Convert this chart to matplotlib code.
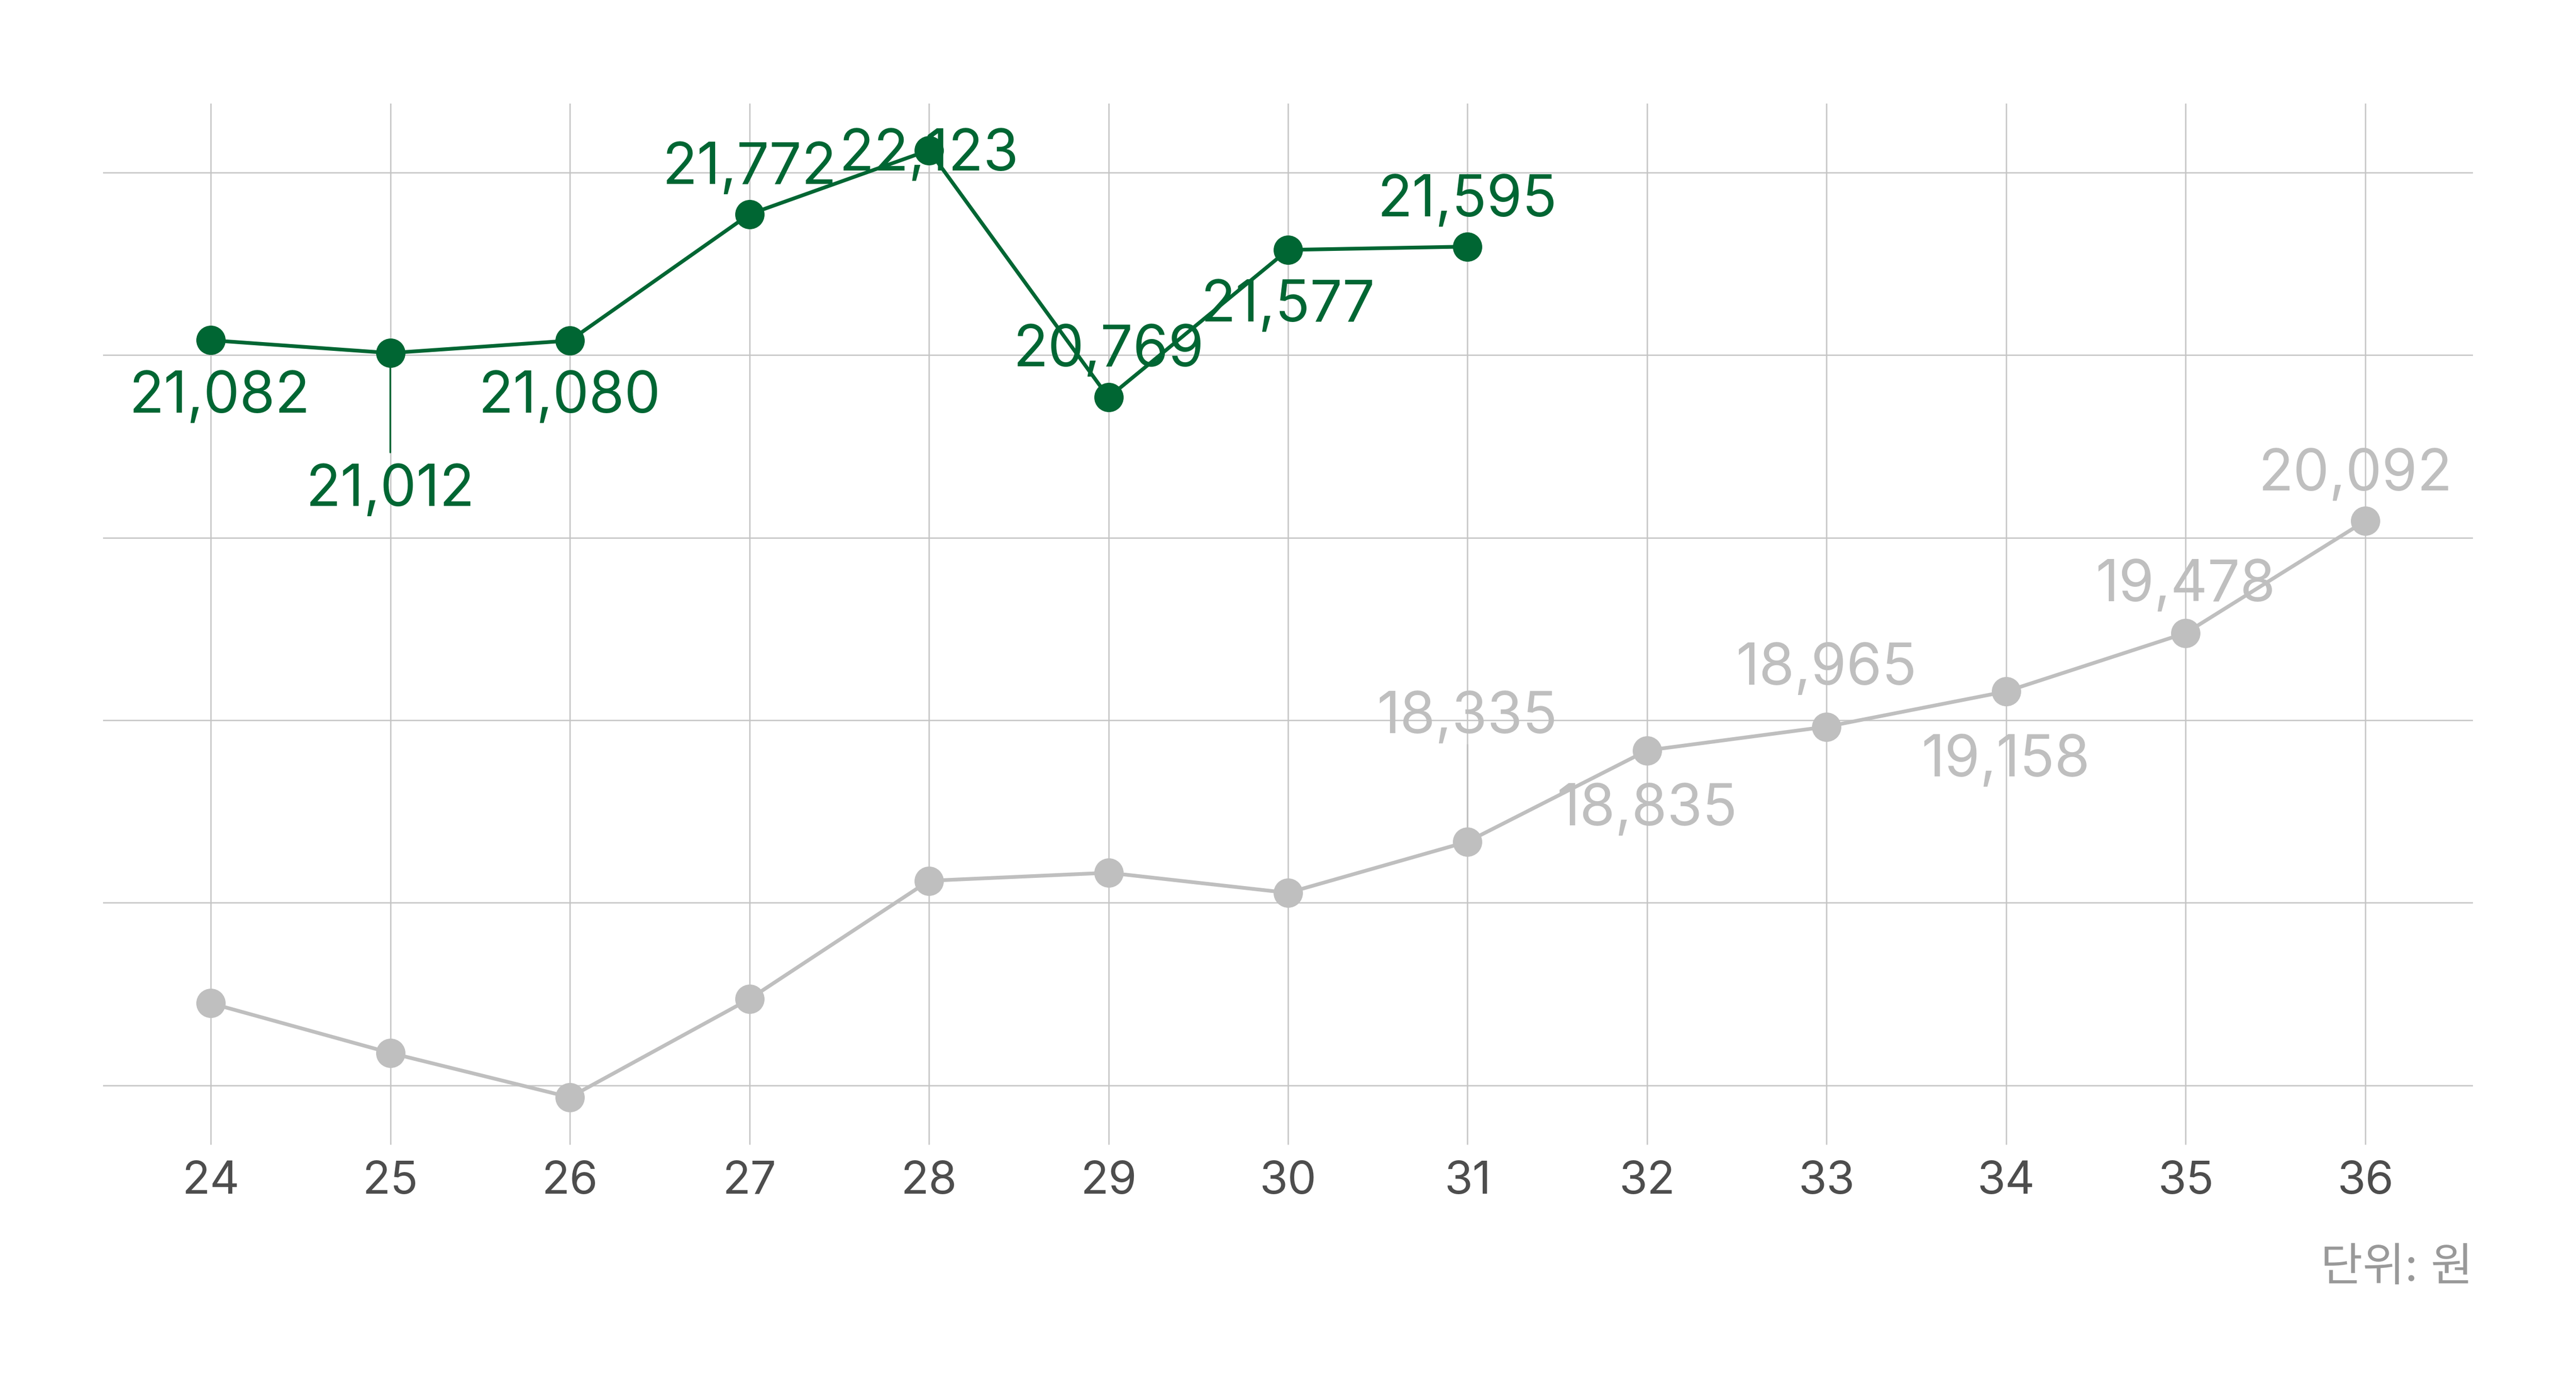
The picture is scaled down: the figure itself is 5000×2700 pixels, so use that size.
import matplotlib
matplotlib.use("Agg")
import matplotlib.pyplot as plt

# ---- data ----
ages = [24, 25, 26, 27, 28, 29, 30, 31, 32, 33, 34, 35, 36]
green_values = [21082, 21012, 21080, 21772, 22123, 20769, 21577, 21595]
gray_values = [17450, 17178, 16935, 17473, 18121, 18165, 18055, 18335,
               18835, 18965, 19158, 19478, 20092]
gray_labeled_from = 31
y_grid = [17000, 18000, 19000, 20000, 21000, 22000]
unit_text = "단위: 원"

# ---- style ----
GREEN = "#006633"
GRAY = "#bfbfbf"
GRID = "#c4c4c4"
FONT = ["Inter", "Noto Sans CJK KR", "DejaVu Sans"]
plt.rcParams["font.family"] = FONT

# label offsets in pixels (dx, dy of baseline), leader line length
green_offsets = [(17, -141, 0), (0, -297, -193), (0, -140, 0), (0, 59, 0),
                 (0, -39, 0), (0, 60, 0), (0, -139, 0), (0, 59, 0)]
gray_offsets = {31: (0, 211, 188), 32: (0, -145, 0), 33: (0, 82, 0),
                34: (0, -165, 0), 35: (0, 62, 0), 36: (-19, 59, 0)}

fig = plt.figure(figsize=(50, 27), dpi=100)
ax = fig.add_axes([0.04, 0.17704, 0.92, 0.7487])

ax.set_xlim(23.4, 36.6)
ax.set_ylim(16675, 22380)
ax.set_xticks(ages)
ax.set_xticklabels([str(a) for a in ages])
ax.set_yticks(y_grid)
ax.set_yticklabels([])
ax.tick_params(axis="both", length=0)
ax.tick_params(axis="x", pad=22, labelsize=64, labelcolor="#4d4d4d")
for s in ax.spines.values():
    s.set_visible(False)
ax.grid(True, color=GRID, linewidth=1.8)
ax.set_axisbelow(True)

lw = 5.2
ms = 41
ax.plot(ages, gray_values, color=GRAY, lw=lw, marker="o", ms=ms,
        markeredgewidth=0, zorder=3)
ax.plot(ages[:len(green_values)], green_values, color=GREEN, lw=lw,
        marker="o", ms=ms, markeredgewidth=0, zorder=4)

def label(x, y, text, color, off):
    dx, dy, lead = off
    if lead:
        ax.annotate("", xy=(x, y), xytext=(0, lead), textcoords="offset pixels",
                    arrowprops=dict(arrowstyle="-", color=color, lw=2.3,
                                    shrinkA=0, shrinkB=0), zorder=2.5)
    ax.annotate(text, xy=(x, y), xytext=(dx, dy), textcoords="offset pixels",
                ha="center", va="baseline", fontsize=80, color=color,
                zorder=5)

for i, v in enumerate(green_values):
    label(ages[i], v, f"{v:,}", GREEN, green_offsets[i])

for a, v in zip(ages, gray_values):
    if a >= gray_labeled_from:
        label(a, v, f"{v:,}", GRAY, gray_offsets[a])

fig.text(0.9600, 1 - 2486 / 2700, unit_text, ha="right", va="baseline",
         fontsize=64, color="#999999")

fig.savefig("out.png", dpi=100, facecolor="white")
